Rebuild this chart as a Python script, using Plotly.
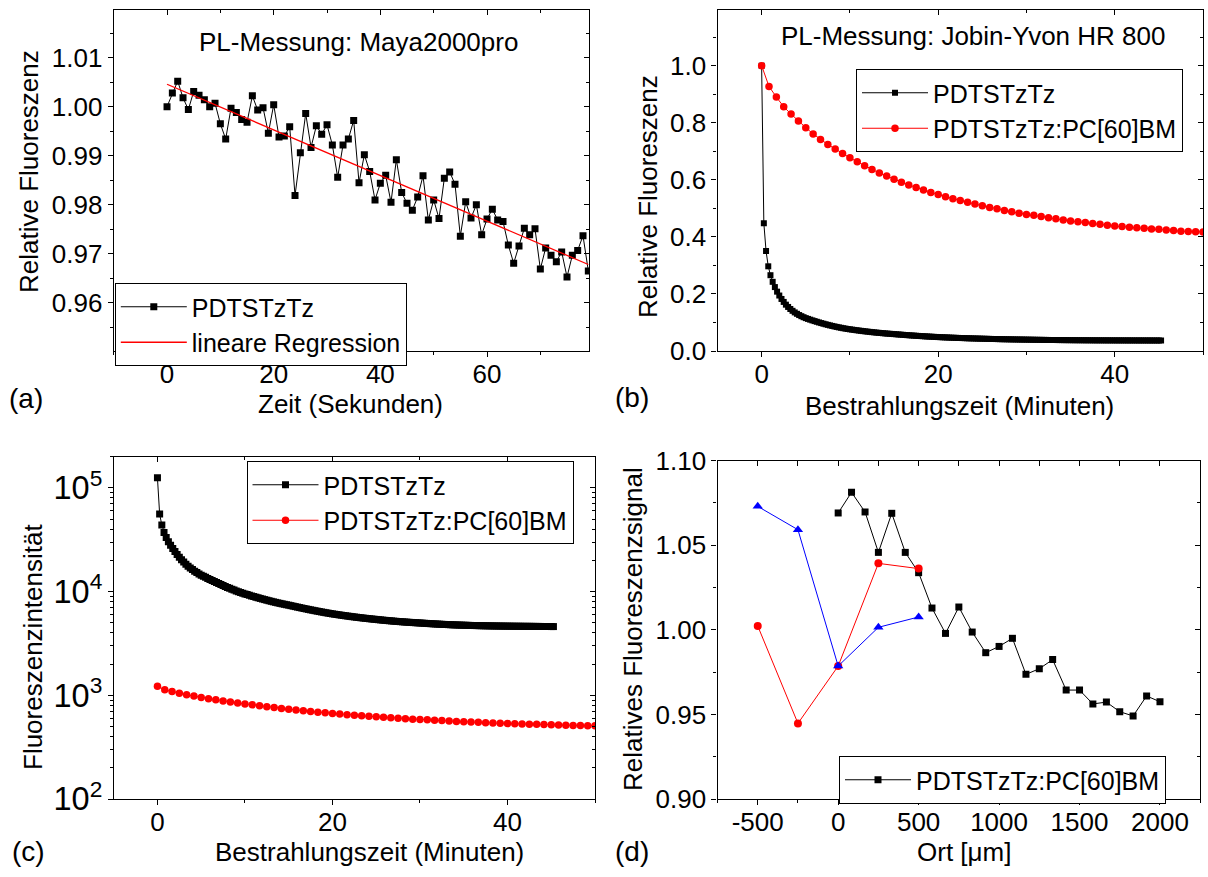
import numpy as np
import plotly.graph_objects as go

FONT = "Liberation Sans, Arial, sans-serif"
W, H = 1208, 877

# ---------------- data ----------------
# (a) PL-Messung Maya2000pro: relative fluorescence vs time (s)
zeit_s = list(range(80))
maya_rel = [1.0000, 1.0028, 1.0052, 1.0018, 0.9994, 1.0031, 1.0023, 1.0014, 1.0000, 1.0007,
            0.9965, 0.9934, 0.9997, 0.9988, 0.9974, 0.9968, 1.0022, 0.9993, 0.9998, 0.9946,
            1.0004, 0.9938, 0.9940, 0.9959, 0.9819, 0.9906, 0.9986, 0.9917, 0.9961, 0.9944,
            0.9963, 0.9922, 0.9856, 0.9922, 0.9934, 0.9972, 0.9845, 0.9902, 0.9868, 0.9810,
            0.9844, 0.9860, 0.9805, 0.9892, 0.9825, 0.9803, 0.9789, 0.9816, 0.9859, 0.9769,
            0.9810, 0.9772, 0.9854, 0.9867, 0.9842, 0.9736, 0.9806, 0.9773, 0.9800, 0.9739,
            0.9771, 0.9791, 0.9769, 0.9766, 0.9718, 0.9681, 0.9716, 0.9752, 0.9739, 0.9751,
            0.9669, 0.9712, 0.9697, 0.9684, 0.9704, 0.9653, 0.9697, 0.9707, 0.9737, 0.9665]

# (b)/(c) Jobin-Yvon HR 800: fluorescence intensity vs irradiation time (min)
black_step_min = 0.25
black_counts = [125000, 56000, 43800, 37100, 33200, 30300, 28000, 26000, 24300, 22800,
                21500, 20300, 19300, 18400, 17600, 16900, 16300, 15750, 15250, 14800,
                14400, 14060, 13730, 13410, 13100, 12800, 12510, 12230, 11960, 11700,
                11450, 11210, 10980, 10760, 10550, 10350, 10160, 9980, 9810, 9650,
                9500, 9360, 9224, 9091, 8962, 8837, 8715, 8597, 8483, 8373,
                8266, 8163, 8064, 7968, 7876, 7788, 7703, 7622, 7545, 7471,
                7401, 7320, 7242, 7165, 7090, 7016, 6944, 6873, 6804, 6737,
                6671, 6607, 6544, 6483, 6424, 6366, 6310, 6255, 6202, 6150,
                6100, 6055, 6011, 5968, 5926, 5885, 5845, 5806, 5768, 5731,
                5695, 5660, 5626, 5593, 5561, 5530, 5500, 5471, 5443, 5416,
                5390, 5362, 5335, 5309, 5284, 5260, 5237, 5214, 5192, 5171,
                5151, 5131, 5112, 5094, 5076, 5059, 5043, 5027, 5012, 4997,
                4983, 4966, 4950, 4934, 4919, 4904, 4890, 4876, 4863, 4850,
                4838, 4826, 4815, 4804, 4794, 4784, 4775, 4766, 4757, 4749,
                4741, 4734, 4727, 4720, 4713, 4707, 4701, 4695, 4690, 4685,
                4680, 4675, 4671, 4667, 4663, 4659, 4656, 4653, 4650, 4647,
                4644, 4642, 4640, 4637, 4635, 4633, 4631, 4629, 4627, 4625,
                4623, 4621, 4619, 4617, 4615, 4613, 4611, 4609, 4607, 4605,
                4603, 4601]
red_step_min = 50.0 / 60.0
red_counts = [1220, 1131, 1086, 1044, 1013, 983, 955, 928, 904, 883,
              864, 844, 826, 809, 792, 776, 761, 748, 734, 722,
              710, 699, 688, 678, 669, 660, 651, 643, 636, 628,
              621, 614, 608, 601, 595, 589, 584, 580, 575, 570,
              565, 560, 556, 553, 549, 545, 542, 538, 534, 532,
              529, 527, 525, 522, 520, 517, 515, 512, 511, 510, 509]

# (d) spatial scan
ort_black = [0, 83, 167, 250, 333, 417, 500, 583, 667, 750, 833, 917, 1000,
             1083, 1167, 1250, 1333, 1417, 1500, 1583, 1667, 1750, 1833, 1917, 2000]
sig_black = [1.0691, 1.0813, 1.0697, 1.0458, 1.0689, 1.0458, 1.0338, 1.0129, 0.9979,
             1.0135, 0.9987, 0.9865, 0.9902, 0.9950, 0.9737, 0.9770, 0.9824, 0.9644,
             0.9644, 0.9562, 0.9573, 0.9516, 0.9491, 0.9609, 0.9575]
ort_rb = [-500, -250, 0, 250, 500]
sig_red = [1.0023, 0.9447, 0.9786, 1.0393, 1.0362]
sig_blue = [1.0730, 1.0592, 0.9786, 1.0015, 1.0076]
d_xtickvals = [-500, 0, 500, 1000, 1500, 2000]
d_xticktext = ["-500", "0", "500", "1000", "1500", "2000"]

# ---------------- derived ----------------
t_black = [round(black_step_min * i, 4) for i in range(len(black_counts))]
t_red = [round(red_step_min * i, 4) for i in range(len(red_counts))]
black_rel = [c / black_counts[0] for c in black_counts]
red_rel = [c / red_counts[0] for c in red_counts]
slope, intercept = np.polyfit(zeit_s, maya_rel, 1)
reg_x = [zeit_s[0], zeit_s[-1]]
reg_y = [intercept + slope * v for v in reg_x]

fig = go.Figure()
BLK = "black"
RED = "#ff0000"
BLUE = "#0000ff"

# (a)
fig.add_trace(go.Scatter(x=zeit_s, y=maya_rel, mode="lines+markers", name="PDTSTzTz",
                         line=dict(color=BLK, width=1), marker=dict(symbol="square", size=7, color=BLK),
                         xaxis="x", yaxis="y", legend="legend"))
fig.add_trace(go.Scatter(x=reg_x, y=reg_y, mode="lines", name="lineare Regression",
                         line=dict(color=RED, width=1.3), xaxis="x", yaxis="y", legend="legend"))
# (b)
fig.add_trace(go.Scatter(x=t_black, y=black_rel, mode="lines+markers", name="PDTSTzTz",
                         line=dict(color=BLK, width=1), marker=dict(symbol="square", size=6, color=BLK),
                         xaxis="x2", yaxis="y2", legend="legend2"))
fig.add_trace(go.Scatter(x=t_red, y=red_rel, mode="lines+markers", name="PDTSTzTz:PC[60]BM",
                         line=dict(color=RED, width=1), marker=dict(symbol="circle", size=7.5, color=RED),
                         xaxis="x2", yaxis="y2", legend="legend2"))
# (c)
fig.add_trace(go.Scatter(x=t_black, y=black_counts, mode="lines+markers", name="PDTSTzTz",
                         line=dict(color=BLK, width=1), marker=dict(symbol="square", size=7, color=BLK),
                         xaxis="x3", yaxis="y3", legend="legend3"))
fig.add_trace(go.Scatter(x=t_red, y=red_counts, mode="lines+markers", name="PDTSTzTz:PC[60]BM",
                         line=dict(color=RED, width=1), marker=dict(symbol="circle", size=7.5, color=RED),
                         xaxis="x3", yaxis="y3", legend="legend3"))
# (d)
fig.add_trace(go.Scatter(x=ort_black, y=sig_black, mode="lines+markers", name="PDTSTzTz:PC[60]BM",
                         line=dict(color=BLK, width=1), marker=dict(symbol="square", size=7, color=BLK),
                         xaxis="x4", yaxis="y4", legend="legend4"))
fig.add_trace(go.Scatter(x=ort_rb, y=sig_red, mode="lines+markers", showlegend=False,
                         line=dict(color=RED, width=1), marker=dict(symbol="circle", size=8, color=RED),
                         xaxis="x4", yaxis="y4"))
fig.add_trace(go.Scatter(x=ort_rb, y=sig_blue, mode="lines+markers", showlegend=False,
                         line=dict(color=BLUE, width=1), marker=dict(symbol="triangle-up", size=9, color=BLUE),
                         xaxis="x4", yaxis="y4"))
# dummy traces for the tick-only helper axes (inward mirrored ticks, outward bottom ticks)
for k in (5, 6, 7, 8):
    fig.add_trace(go.Scatter(x=[None], y=[None], xaxis=f"x{k}", yaxis=f"y{k}",
                             showlegend=False, hoverinfo="skip"))
for k, yk in ((9, ""), (10, "2"), (11, "3"), (12, "4")):
    fig.add_trace(go.Scatter(x=[None], y=[None], xaxis=f"x{k}", yaxis=f"y{yk}",
                             showlegend=False, hoverinfo="skip"))

TF = dict(family=FONT, size=26, color="black")


def main_ax(**kw):
    d = dict(showline=True, linecolor="black", linewidth=1.3, mirror=True,
             ticks="outside", ticklen=5, tickwidth=1.3, tickcolor="black",
             showgrid=False, zeroline=False, tickfont=TF, automargin=False)
    minor = kw.pop("minor", None)
    if minor is not None:
        m = dict(ticks="outside", ticklen=3, tickwidth=1.3, tickcolor="black", showgrid=False)
        m.update(minor)
        d["minor"] = m
    d.update(kw)
    return d


def tick_ax(inside=True, **kw):
    side = "inside" if inside else "outside"
    d = dict(showline=False, ticks=side, ticklen=5, tickwidth=1.3, tickcolor="black",
             showgrid=False, zeroline=False, showticklabels=False, automargin=False)
    minor = kw.pop("minor", None)
    if minor is not None:
        m = dict(ticks=side, ticklen=3, tickwidth=1.3, tickcolor="black", showgrid=False)
        m.update(minor)
        d["minor"] = m
    d.update(kw)
    return d


def fx(px):
    return px / W


def fy(py):
    return 1 - py / H


dom_a_x = [fx(113.7), fx(589.4)]
dom_b_x = [fx(717.5), fx(1203)]
dom_c_x = [fx(113.7), fx(595)]
dom_d_x = [fx(717.5), fx(1200.2)]
dom_top_y = [fy(351), fy(10)]
dom_c_y = [fy(799), fy(456.7)]
dom_d_y = [fy(799), fy(460.7)]

ra_x = [-10, 79.2]
ra_y = [0.9502, 1.0197]
rb_x = [-5, 50]
rb_y = [0, 1.195]
rc_y = [2, 5.301]
rd_x = [-750, 2250]
rd_y = [0.9, 1.1]

layout = dict(
    width=W, height=H, margin=dict(l=0, r=0, t=0, b=0),
    paper_bgcolor="white", plot_bgcolor="white", showlegend=True,
    font=dict(family=FONT, color="black"),
    # main axes (x: labels only, ticks drawn by helper axes so labels sit closer)
    xaxis=main_ax(domain=dom_a_x, anchor="y", range=ra_x, tick0=0, dtick=20, ticks=""),
    yaxis=main_ax(domain=dom_top_y, anchor="x", range=ra_y, tick0=0, dtick=0.01, tickformat=".2f",
                  minor=dict(tick0=0, dtick=0.005)),
    xaxis2=main_ax(domain=dom_b_x, anchor="y2", range=rb_x, tick0=0, dtick=20, ticks=""),
    yaxis2=main_ax(domain=dom_top_y, anchor="x2", range=rb_y, tick0=0, dtick=0.2, tickformat=".1f",
                   minor=dict(tick0=0, dtick=0.1)),
    xaxis3=main_ax(domain=dom_c_x, anchor="y3", range=rb_x, tick0=0, dtick=20, ticks=""),
    yaxis3=main_ax(domain=dom_c_y, anchor="x3", type="log", range=rc_y, dtick=1,
                   exponentformat="power", showexponent="all", minor=dict(dtick="D1")),
    xaxis4=main_ax(domain=dom_d_x, anchor="y4", range=rd_x, tickmode="array",
                   tickvals=d_xtickvals, ticktext=d_xticktext, ticks=""),
    yaxis4=main_ax(domain=dom_d_y, anchor="x4", range=rd_y, tick0=0, dtick=0.05, tickformat=".2f",
                   minor=dict(tick0=0, dtick=0.025)),
    # mirrored inward ticks (top / right)
    xaxis5=tick_ax(overlaying="x", side="top", anchor="y", range=ra_x, tick0=0, dtick=20,
                   minor=dict(tick0=0, dtick=10)),
    yaxis5=tick_ax(overlaying="y", side="right", anchor="x", range=ra_y, tick0=0, dtick=0.01,
                   minor=dict(tick0=0, dtick=0.005)),
    xaxis6=tick_ax(overlaying="x2", side="top", anchor="y2", range=rb_x, tick0=0, dtick=20,
                   minor=dict(tick0=0, dtick=10)),
    yaxis6=tick_ax(overlaying="y2", side="right", anchor="x2", range=rb_y, tick0=0, dtick=0.2,
                   minor=dict(tick0=0, dtick=0.1)),
    xaxis7=tick_ax(overlaying="x3", side="top", anchor="y3", range=rb_x, tick0=0, dtick=20,
                   minor=dict(tick0=0, dtick=10)),
    yaxis7=tick_ax(overlaying="y3", side="right", anchor="x3", type="log", range=rc_y, dtick=1,
                   minor=dict(dtick="D1")),
    xaxis8=tick_ax(overlaying="x4", side="top", anchor="y4", range=rd_x, tick0=0, dtick=250,
                   minor=dict(tick0=0, dtick=250)),
    yaxis8=tick_ax(overlaying="y4", side="right", anchor="x4", range=rd_y, tick0=0, dtick=0.05,
                   minor=dict(tick0=0, dtick=0.025)),
    # outward bottom ticks
    xaxis9=tick_ax(inside=False, overlaying="x", side="bottom", anchor="y", range=ra_x, tick0=0,
                   dtick=20, minor=dict(tick0=0, dtick=10)),
    xaxis10=tick_ax(inside=False, overlaying="x2", side="bottom", anchor="y2", range=rb_x, tick0=0,
                    dtick=20, minor=dict(tick0=0, dtick=10)),
    xaxis11=tick_ax(inside=False, overlaying="x3", side="bottom", anchor="y3", range=rb_x, tick0=0,
                    dtick=20, minor=dict(tick0=0, dtick=10)),
    xaxis12=tick_ax(inside=False, overlaying="x4", side="bottom", anchor="y4", range=rd_x, tick0=0,
                    dtick=500, minor=dict(tick0=0, dtick=250)),
)

LEG = dict(xanchor="left", yanchor="top", bordercolor="black", borderwidth=1, bgcolor="white",
           font=dict(family=FONT, size=25, color="black"), itemwidth=66, tracegroupgap=0,
           traceorder="normal")
layout["legend"] = dict(LEG, x=fx(114.8), y=fy(283))
layout["legend2"] = dict(LEG, x=fx(856), y=fy(69))
layout["legend3"] = dict(LEG, x=fx(246.5), y=fy(461))
layout["legend4"] = dict(LEG, x=fx(839), y=fy(756))

fig.update_layout(**layout)

ann_font = dict(family=FONT, size=26, color="black")
lab_font = dict(family=FONT, size=28, color="black")
texts = [
    ("PL-Messung: Maya2000pro", 358, 41.7, 0, ann_font),
    ("PL-Messung: Jobin-Yvon HR 800", 973, 36, 0, ann_font),
    ("(a)", 26, 398, 0, lab_font), ("(b)", 632, 397, 0, lab_font),
    ("(c)", 28, 851.7, 0, lab_font), ("(d)", 632, 851.7, 0, lab_font),
    ("Zeit (Sekunden)", 350, 404, 0, ann_font),
    ("Bestrahlungszeit (Minuten)", 959.6, 406, 0, ann_font),
    ("Bestrahlungszeit (Minuten)", 369.3, 852, 0, ann_font),
    ("Ort [μm]", 963.7, 852, 0, ann_font),
    ("Relative Fluoreszenz", 29, 172, -90, ann_font),
    ("Relative Fluoreszenz", 648, 197, -90, ann_font),
    ("Fluoreszenzintensität", 33, 647, -90, ann_font),
    ("Relatives Fluoreszenzsignal", 633, 629, -90, ann_font),
]
for txt, px, py, ang, f in texts:
    fig.add_annotation(text=txt, x=fx(px), y=fy(py), xref="paper", yref="paper",
                       xanchor="center", yanchor="middle", showarrow=False,
                       textangle=ang, font=f)

fig.write_html("out.html")
